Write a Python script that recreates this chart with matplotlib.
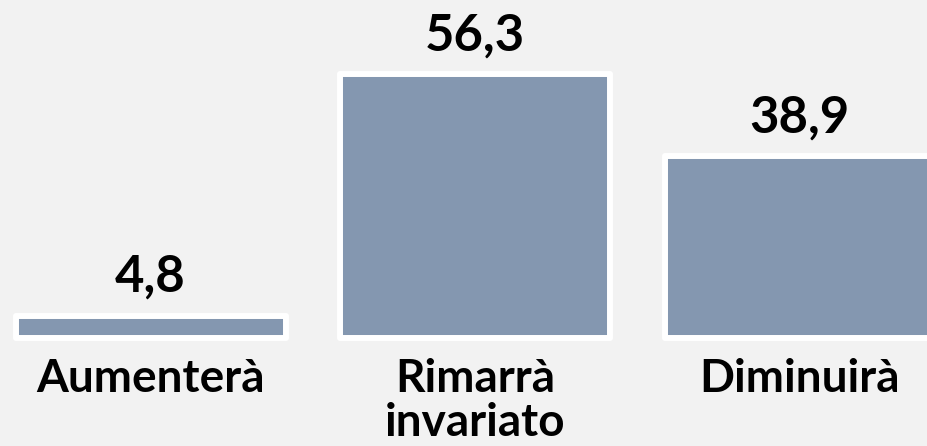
import matplotlib
matplotlib.use('Agg')
import matplotlib.pyplot as plt

# Data
categories = ['Aumenterà', 'Rimarrà\ninvariato', 'Diminuirà']
values = [4.8, 56.3, 38.9]
value_labels = ['4,8', '56,3', '38,9']

plt.rcParams['font.family'] = ['Lato', 'DejaVu Sans']

bg = '#f2f2f2'
barColor = '#8497b0'

fig = plt.figure(figsize=(9.27, 4.46), dpi=100, facecolor=bg)
ax = fig.add_axes([0, 0, 1, 1])
ax.set_facecolor(bg)

pos = list(range(len(categories)))
bars = ax.bar(pos, values, width=0.832, color=barColor,
              edgecolor='white', linewidth=4.3)
for b in bars:
    b.set_joinstyle('round')

# value labels above the bars
for p, v, lab in zip(pos, values, value_labels):
    ax.annotate(lab, (p, v), xytext=(0, 17), textcoords='offset points',
                ha='center', va='baseline', fontsize=36.5,
                fontweight='bold', color='black')

# category labels under the bars, one line at a time
line_y = [-11.5, -20.8]
for p, cat in zip(pos, categories):
    for y, line in zip(line_y, cat.split('\n')):
        ax.text(p, y, line, ha='center', va='baseline', fontsize=33,
                fontweight='bold', color='black')

ax.set_xlim(-0.464, 2.393)
ax.set_ylim(-23.0, 72.1)
ax.axis('off')

fig.savefig('out.png', dpi=100, facecolor=bg)
